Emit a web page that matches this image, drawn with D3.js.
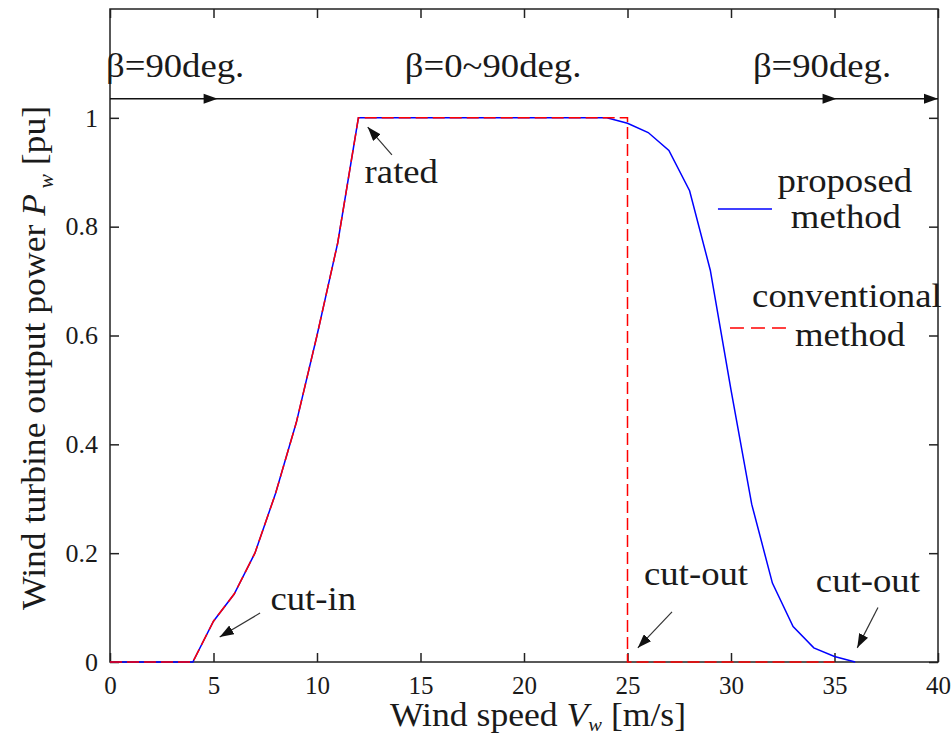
<!DOCTYPE html>
<html lang="en">
<head>
<meta charset="UTF-8">
<title>Wind turbine output power</title>
<script src="https://d3js.org/d3.v7.min.js"></script>
<style>
  body { margin: 0; background: #fff; }
  svg text { font-family: "Liberation Serif", "Times New Roman", serif; fill: #1a1a1a; }
</style>
</head>
<body>
<svg id="chart"></svg>
<script>
// Data
const proposedSpeed = [0, 4, 5, 6, 7, 8, 9, 10, 11, 12, 24, 25, 26, 27, 28, 29, 30, 31, 32, 33, 34, 35, 36];
const proposedPower = [0, 0, 0.075, 0.125, 0.2, 0.31, 0.44, 0.6, 0.77, 1, 1, 0.99, 0.973, 0.94, 0.866, 0.72, 0.5, 0.29, 0.145, 0.065, 0.026, 0.01, 0];
const conventionalSpeed = [0, 4, 5, 6, 7, 8, 9, 10, 11, 12, 25, 25, 35];
const conventionalPower = [0, 0, 0.075, 0.125, 0.2, 0.31, 0.44, 0.6, 0.77, 1, 1, 0, 0];

const xTicks = [0, 5, 10, 15, 20, 25, 30, 35, 40];
const yTicks = [0, 0.2, 0.4, 0.6, 0.8, 1];
const yTickLabels = ["0", "0.2", "0.4", "0.6", "0.8", "1"];

// pitch angle band across the top
const betaLineLevel = 1.035;
const betaArrowTips = [5.2, 35.1, 40];
const betaLabels = [
  {text: "\u03b2=90deg.", x: 0.0, anchor: "start"},
  {text: "\u03b2=0~90deg.", x: 18.7, anchor: "middle"},
  {text: "\u03b2=90deg.", x: 31.25, anchor: "start"}
];

// annotations: label position and arrow tail -> tip, in data units
const notes = [
  {text: "rated",   tx: 12.3,  ty: 0.88,  x1: 13.62, y1: 0.932, x2: 12.45, y2: 0.983},
  {text: "cut-in",  tx: 7.75,  ty: 0.096, x1: 7.25,  y1: 0.09,  x2: 5.3,   y2: 0.046},
  {text: "cut-out", tx: 25.8,  ty: 0.142, x1: 27.15, y1: 0.092, x2: 25.5,  y2: 0.026},
  {text: "cut-out", tx: 34.1,  ty: 0.129, x1: 37.1,  y1: 0.1,   x2: 36.1,  y2: 0.026}
];

// legend entries
const legend = [
  {lines: ["proposed", "method"], color: "#0000ff", dash: null,
   x1: 29.37, x2: 31.98, ly: 0.8325, tx: [35.5, 35.55], ty: [0.864, 0.7975]},
  {lines: ["conventional", "method"], color: "#ff0000", dash: "14,7",
   x1: 29.95, x2: 32.7, ly: 0.6138, tx: [35.6, 35.75], ty: [0.6524, 0.5807]}
];

const width = 951, height = 738;
const margin = {top: 9, right: 13, bottom: 76, left: 110};
const innerW = width - margin.left - margin.right;
const innerH = height - margin.top - margin.bottom;
const bigFont = 34, stretch = 1.08;

const svg = d3.select("#chart").attr("width", width).attr("height", height);
const g = svg.append("g").attr("transform", `translate(${margin.left},${margin.top})`);

const x = d3.scaleLinear().domain([0, 40]).range([0, innerW]);
const y = d3.scaleLinear().domain([0, 1.2]).range([innerH, 0]);

// big serif text, slightly widened like the original figure
function label(parent, px, py, txt, anchor, rot) {
  return parent.append("text")
    .attr("transform", `translate(${px},${py}) rotate(${rot || 0}) scale(${stretch},1)`)
    .attr("text-anchor", anchor || "start")
    .attr("font-size", bigFont)
    .text(txt);
}

// arrow head marker for the annotations
const defs = svg.append("defs");
defs.append("marker")
  .attr("id", "head")
  .attr("viewBox", "0 0 14 10")
  .attr("refX", 14).attr("refY", 5)
  .attr("markerWidth", 14).attr("markerHeight", 10)
  .attr("markerUnits", "userSpaceOnUse")
  .attr("orient", "auto")
  .append("path").attr("d", "M0,0 L14,5 L0,10 Z").attr("fill", "#111");

// axes with inward ticks
const tickLen = 9;
g.append("g")
  .attr("transform", `translate(0,${innerH})`)
  .call(d3.axisBottom(x).tickValues(xTicks).tickSizeInner(-tickLen).tickSizeOuter(0).tickPadding(14))
  .call(a => a.select(".domain").remove())
  .call(a => a.selectAll("text").attr("font-size", 25).attr("dy", "0.71em"));
g.append("g")
  .call(d3.axisTop(x).tickValues(xTicks).tickSizeInner(-tickLen).tickSizeOuter(0).tickFormat(""))
  .call(a => a.select(".domain").remove());
g.append("g")
  .call(d3.axisLeft(y).tickValues(yTicks).tickSizeInner(-tickLen).tickSizeOuter(0).tickPadding(12)
    .tickFormat((d, i) => yTickLabels[i]))
  .call(a => a.select(".domain").remove())
  .call(a => a.selectAll("text").attr("font-size", 26));
g.append("g")
  .attr("transform", `translate(${innerW},0)`)
  .call(d3.axisRight(y).tickValues(yTicks).tickSizeInner(-tickLen).tickSizeOuter(0).tickFormat(""))
  .call(a => a.select(".domain").remove());
g.selectAll(".tick line").attr("stroke", "#222").attr("stroke-width", 1.5);
g.selectAll(".tick text").attr("font-family", null).attr("fill", "#1a1a1a");
g.selectAll("g").attr("font-family", null);

// frame
g.append("rect")
  .attr("width", innerW).attr("height", innerH)
  .attr("fill", "none").attr("stroke", "#222").attr("stroke-width", 1.5);

// curves
const line = d3.line().x(d => x(d[0])).y(d => y(d[1]));
g.append("path")
  .datum(d3.zip(proposedSpeed, proposedPower))
  .attr("fill", "none").attr("stroke", "#0000ff").attr("stroke-width", 1.5)
  .attr("d", line);
g.append("path")
  .datum(d3.zip(conventionalSpeed, conventionalPower))
  .attr("fill", "none").attr("stroke", "#ff0000").attr("stroke-width", 1.5)
  .attr("stroke-dasharray", "12,5")
  .attr("d", line);

// pitch angle band
g.append("line")
  .attr("x1", x(0)).attr("x2", x(40))
  .attr("y1", y(betaLineLevel)).attr("y2", y(betaLineLevel))
  .attr("stroke", "#111").attr("stroke-width", 1.5);
g.selectAll(".beta-head")
  .data(betaArrowTips)
  .join("path")
  .attr("class", "beta-head")
  .attr("d", d => `M${x(d)},${y(betaLineLevel)} l-14,-5 l0,10 Z`)
  .attr("fill", "#111");
betaLabels.forEach(b => label(g, x(b.x) - 4, y(betaLineLevel) - 22, b.text, b.anchor));

// annotations
g.selectAll(".note-arrow")
  .data(notes)
  .join("line")
  .attr("class", "note-arrow")
  .attr("x1", d => x(d.x1)).attr("y1", d => y(d.y1))
  .attr("x2", d => x(d.x2)).attr("y2", d => y(d.y2))
  .attr("stroke", "#333").attr("stroke-width", 1.2)
  .attr("marker-end", "url(#head)");
notes.forEach(n => label(g, x(n.tx), y(n.ty), n.text));

// legend
legend.forEach(l => {
  g.append("line")
    .attr("x1", x(l.x1)).attr("x2", x(l.x2))
    .attr("y1", y(l.ly)).attr("y2", y(l.ly))
    .attr("stroke", l.color).attr("stroke-width", 1.5)
    .attr("stroke-dasharray", l.dash);
  l.lines.forEach((s, i) => label(g, x(l.tx[i]), y(l.ty[i]), s, "middle"));
});

// axis titles
const xTitle = svg.append("text")
  .attr("transform", `translate(538,726) scale(${stretch},1)`)
  .attr("text-anchor", "middle").attr("font-size", 33);
xTitle.append("tspan").text("Wind speed ");
xTitle.append("tspan").attr("font-style", "italic").text("V");
xTitle.append("tspan").attr("font-style", "italic").attr("font-size", 19).attr("dy", 5).text("w");
xTitle.append("tspan").attr("dy", -5).text(" [m/s]");

const yTitle = svg.append("text")
  .attr("transform", `translate(45,358) rotate(-90) scale(${stretch},1)`)
  .attr("text-anchor", "middle").attr("font-size", 33);
yTitle.append("tspan").text("Wind turbine output power ");
yTitle.append("tspan").attr("font-style", "italic").text("P");
yTitle.append("tspan").attr("font-style", "italic").attr("font-size", 20).attr("dy", 8).text(" w");
yTitle.append("tspan").attr("dy", -8).text("  [pu]");
</script>
</body>
</html>
